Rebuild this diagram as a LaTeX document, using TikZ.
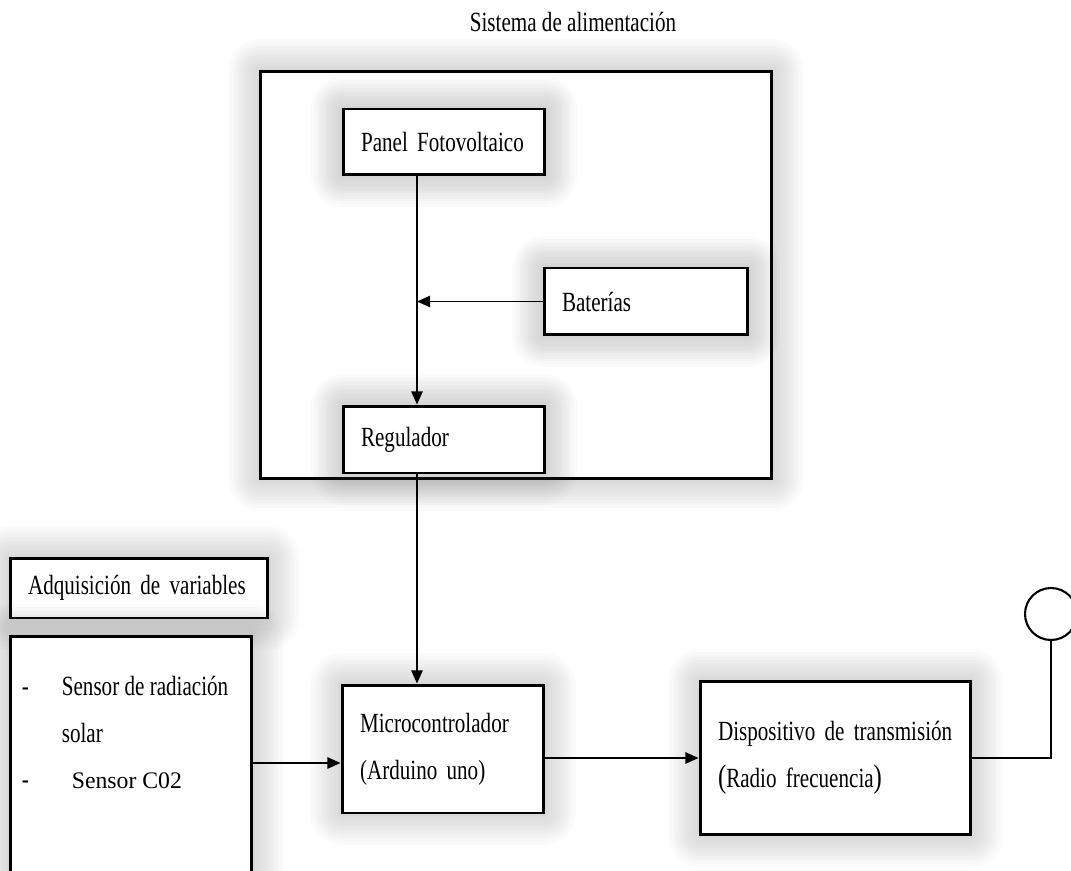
\documentclass[tikz,border=0pt]{standalone}
\usepackage{fontspec}
\setmainfont{Liberation Serif}[FakeStretch=0.76]
\newfontfamily\plainrm{Liberation Serif}
\usepackage{tikz}
\usetikzlibrary{positioning,arrows.meta}

\begin{document}
\begin{tikzpicture}[x=0.02cm, y=-0.02cm,
    font=\fontsize{15.8}{26.6}\selectfont,
    >={Triangle[length=7.5pt,width=6.5pt]},
    halo/.style={preaction={draw=black!70, draw opacity=0.018, line width=#1, line join=round}},
    blk/.style={halo/.list={36pt,33pt,30pt,27pt,24pt,21pt,18pt,15pt,12pt,9pt,6pt,3pt},
        draw, line width=1.7pt, fill=white, inner xsep=0.36cm, align=left},
    link/.style={line width=0.85pt}]

    \useasboundingbox (0,0) rectangle (1071,871);

    % sistema de alimentacion
    \node[anchor=base] (title) at (573,32) {Sistema de alimentación};
    \node[blk, minimum width=10.24cm, minimum height=8.16cm] (sys) at (516,275) {};

    \node[blk, text width=3.32cm, minimum height=1.32cm] (panel) at (444,142) {Panel Fotovoltaico};
    \node[blk, text width=3.36cm, minimum height=1.34cm] (bat) at (646,301.5) {Baterías};
    \node[blk, text width=3.32cm, minimum height=1.34cm] (reg) at (444,439.5) {Regulador};

    % adquisicion
    \node[blk, text width=4.44cm, minimum height=1.2cm] (adq) at (139,588) {Adquisición de variables};
    \node[blk, minimum width=4.84cm, minimum height=5.08cm] (sens) at (131,763) {};
    \node[anchor=base west, inner sep=0] (sensl) at ([xshift=0.26cm,yshift=-1.22cm]sens.north west)
        {\begin{tabular}[t]{@{}p{0.8cm}@{}l@{}}
            - & Sensor de radiación\\
              & solar\\
            - & \hspace{0.2cm}{\plainrm\fontsize{13.5}{26.6}\selectfont Sensor C02}
        \end{tabular}};

    \node[blk, text width=3.32cm, minimum height=2.56cm] (mcu) at (443,749)
        {Microcontrolador\\(Arduino uno)};
    \node[blk, text width=4.70cm, minimum height=3.08cm] (disp) at (835.5,758)
        {Dispositivo de transmisión\\
         {\fontsize{18.5}{26.6}\selectfont(}Radio frecuencia{\fontsize{18.5}{26.6}\selectfont)}};
    \node[draw, circle, line width=1.2pt, minimum size=1.04cm, inner sep=0] (ant) at (1051,614) {};

    % conexiones
    \coordinate (jn) at ([xshift=-0.54cm]panel.south);
    \draw[link,->] (jn) -- (jn |- reg.north);
    \draw[link,->] (bat.west) -- (bat.west -| jn);
    \draw[link,->] ([xshift=-0.54cm]reg.south) -- ([xshift=-0.54cm]reg.south |- mcu.north);
    \draw[link,->] (sens.east) -- (sens.east -| mcu.west);
    \draw[link,->] (mcu.east |- disp.west) -- (disp.west);
    \draw[link] (disp.east) -| (ant.south);

\end{tikzpicture}
\end{document}
